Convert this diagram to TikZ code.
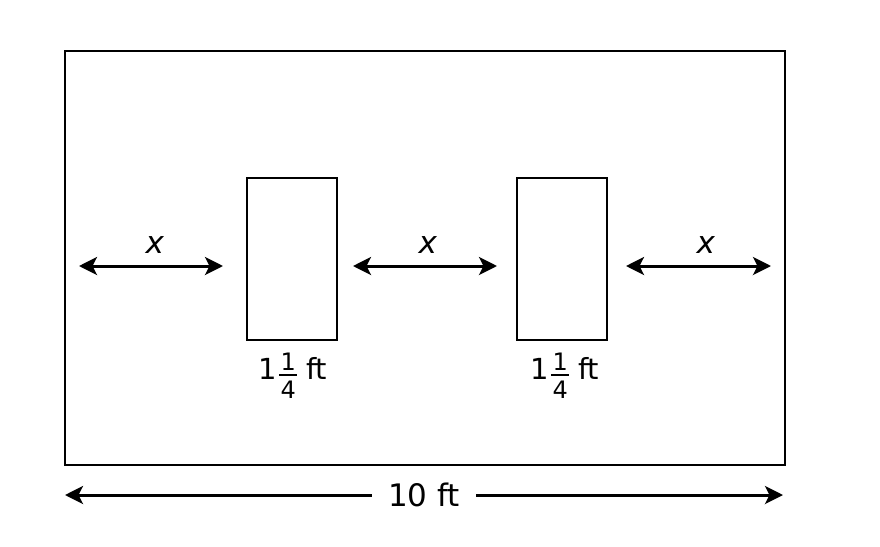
\documentclass[tikz,border=0pt]{standalone}
\usepackage{fontspec}
\setmainfont{DejaVu Sans}
\usetikzlibrary{arrows.meta}
\newcommand\myfr[2]{%
  \kern2.5pt\rlap{\makebox[18pt]{\raisebox{9pt}{\fontsize{24}{24}\selectfont #1}}}%
  \rlap{\makebox[18pt]{\raisebox{-19pt}{\fontsize{24}{24}\selectfont #2}}}%
  \rule[3.2pt]{18pt}{1.9pt}}
\begin{document}
\begin{tikzpicture}[x=1pt,y=-1pt,
  box/.style={draw=black,line width=2pt},
  tip/.tip={Stealth[length=18pt,width=18pt,inset=4.5pt]},
  dim/.style={line width=3pt,tip-tip},
  halfdim/.style={line width=3pt,-tip},
  lbl/.style={font=\fontsize{31}{36}\selectfont,inner sep=0pt},
  flbl/.style={font=\fontsize{29}{33}\selectfont,inner sep=0pt,anchor=base west}]
\useasboundingbox[fill=white] (0,0) rectangle (880,546);
\draw[box] (65,51) rectangle (785,465);
\draw[box] (247,178) rectangle (337,340);
\draw[box] (517,178) rectangle (607,340);
\coordinate (a1) at (79,266); \coordinate (b1) at (223,266);
\coordinate (a2) at (353,266); \coordinate (b2) at (497,266);
\coordinate (a3) at (626,266); \coordinate (b3) at (771,266);
\draw[dim] (a1) -- (b1);
\draw[dim] (a2) -- (b2);
\draw[dim] (a3) -- (b3);
\node[lbl] (x1) at (155,245) {\textit{x}};
\node[lbl] (x2) at (428,245) {\textit{x}};
\node[lbl] (x3) at (706,245) {\textit{x}};
\node[flbl] (f1) at (258,379) {1\myfr{1}{4}\kern9pt ft};
\node[flbl] (f2) at (530,379) {1\myfr{1}{4}\kern9pt ft};
\node[lbl,inner xsep=16pt] (ten) at (424,495) {10 ft};
\coordinate (l) at (65,495); \coordinate (r) at (783,495);
\draw[halfdim] (ten.west) -- (l);
\draw[halfdim] (ten.east) -- (r);
\end{tikzpicture}
\end{document}
